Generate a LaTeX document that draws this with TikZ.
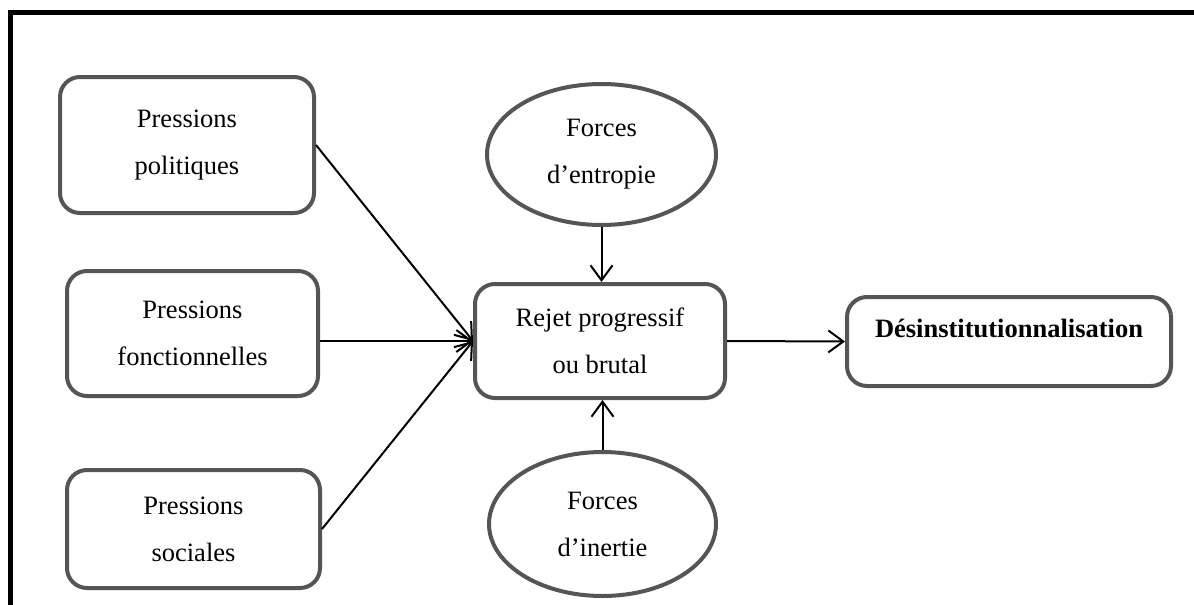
\documentclass[tikz,border=0pt]{standalone}
\usepackage{fontspec}
\setmainfont{Liberation Serif}
\usetikzlibrary{shapes.geometric,arrows.meta}
\definecolor{boxgray}{RGB}{85,85,85}
\tikzset{
  box/.style={draw=boxgray, line width=4pt, rounded corners=20pt, fill=white,
    align=center, inner sep=0pt, font=\fontsize{26.5}{47}\selectfont},
  ell/.style={ellipse, draw=boxgray, line width=4pt, fill=white,
    align=center, inner sep=0pt, font=\fontsize{26.5}{47}\selectfont},
  conn/.style={line width=2pt, -{Straight Barb[length=15pt,width=22pt,line width=2pt]}},
  frame/.style={line width=5pt, black}
}
\begin{document}
\begin{tikzpicture}[x=1pt,y=-1pt]
\useasboundingbox (0,0) rectangle (1194,605);
\fill[white] (0,0) rectangle (1194,605);
\coordinate (fbl) at (10,610);
\coordinate (ftl) at (10,12.5);
\coordinate (ftr) at (1200,12.5);
\draw[frame] (fbl) -- (ftl) -- (ftr);

\node[box, minimum width=254pt, minimum height=136pt] (pol) at (187,145) {Pressions\\politiques};
\node[box, minimum width=251pt, minimum height=125pt] (fon) at (192.5,333.5) {Pressions\\fonctionnelles};
\node[box, minimum width=253pt, minimum height=118pt] (soc) at (193.5,529) {Pressions\\sociales};
\node[box, minimum width=250pt, minimum height=114pt] (rej) at (600,341) {Rejet progressif\\ou brutal};
\node[box, minimum width=324pt, minimum height=89pt, align=left, text depth=26pt] (des) at (1009,341.5) {\textbf{Désinstitutionnalisation}};
\node[ell, minimum width=229pt, minimum height=141pt] (ent) at (601.5,154.5) {Forces\\d’entropie};
\node[ell, minimum width=227pt, minimum height=144pt] (ine) at (602.5,524) {Forces\\d’inertie};

\draw[conn] (pol.east) -- (rej.west);
\draw[conn] (fon.east |- rej.west) -- (rej.west);
\draw[conn] (soc.east) -- (rej.west);
\draw[conn] (ent.south) -- (ent.south |- rej.north);
\draw[conn] (ine.north) -- (ine.north |- rej.south);
\draw[conn] (rej.east) -- (des.west);
\end{tikzpicture}
\end{document}
